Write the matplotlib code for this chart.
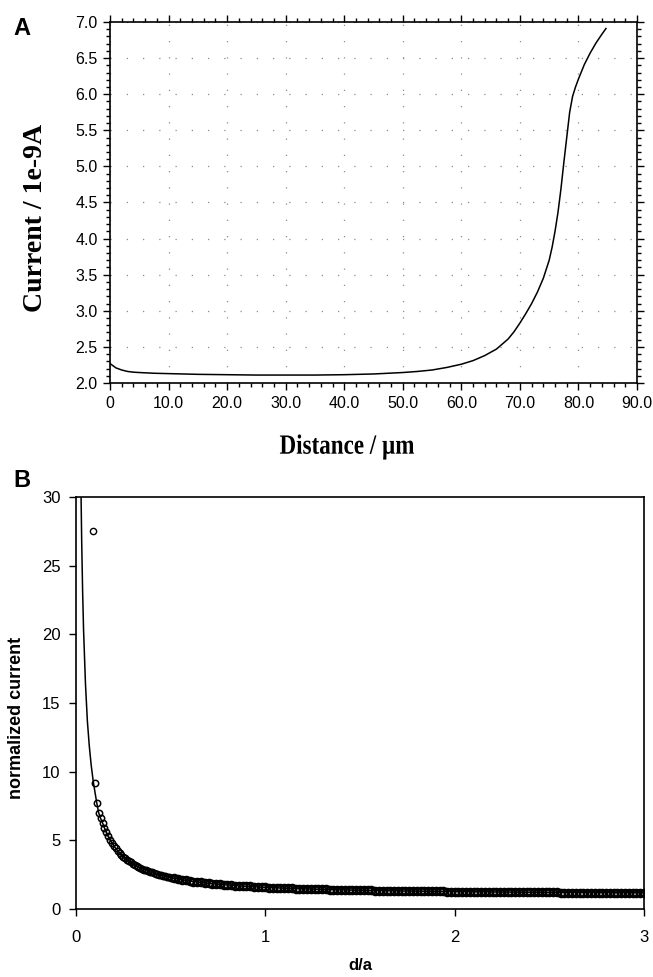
import numpy as np
import matplotlib
matplotlib.use('Agg')
import matplotlib.pyplot as plt
from matplotlib.ticker import MultipleLocator
from matplotlib.textpath import TextPath
from matplotlib.patches import PathPatch
from matplotlib.transforms import Affine2D, IdentityTransform
from matplotlib.font_manager import FontProperties

# Panel A: tip current vs distance
dist_um = [0, 0.5, 1, 2, 3, 4, 5, 7.5, 10, 15, 20, 25, 30, 35, 40, 45, 50, 52.5,
           55, 57.5, 60, 62, 64, 66, 68, 69, 70, 71, 72, 73, 74, 75, 75.5, 76,
           76.5, 77, 77.5, 78, 78.5, 79, 79.5, 80, 81, 82, 83, 84, 84.7]
current_nA = [2.27, 2.24, 2.21, 2.18, 2.16, 2.15, 2.145, 2.135, 2.13, 2.12, 2.115,
              2.11, 2.11, 2.11, 2.115, 2.125, 2.145, 2.16, 2.18, 2.215, 2.26,
              2.31, 2.38, 2.47, 2.61, 2.71, 2.83, 2.96, 3.1, 3.26, 3.45, 3.7,
              3.88, 4.1, 4.36, 4.68, 5.05, 5.4, 5.75, 5.97, 6.1, 6.21, 6.41,
              6.57, 6.71, 6.83, 6.91]

# Panel B: normalized approach curve
# steep head of the fitted line (above the first circles)
line_head_x = [0.022, 0.026, 0.03, 0.035, 0.04, 0.05, 0.06, 0.07, 0.08, 0.09, 0.10]
line_head_y = [36.3, 30.8, 26.8, 23.1, 20.3, 16.4, 13.7, 11.9, 10.5, 9.4, 8.52]

# outlier circle
outlier_x = [0.088]
outlier_y = [27.5]

# circles, d/a = 0.10 ... 0.50 in steps of 0.01
circ_x_a = np.round(np.arange(0.10, 0.505, 0.01), 2)
circ_y_a = [9.2, 7.7, 7.0, 6.6, 6.28, 5.91, 5.58, 5.29, 5.03, 4.81, 4.60,
            4.41, 4.25, 4.09, 3.95, 3.82, 3.70, 3.59, 3.49, 3.39, 3.30,
            3.22, 3.14, 3.07, 3.00, 2.94, 2.87, 2.82, 2.76, 2.71, 2.66,
            2.62, 2.57, 2.53, 2.49, 2.45, 2.42, 2.38, 2.35, 2.32, 2.29]

# circles, d/a = 0.52 ... 3.00 in steps of 0.02
circ_x_b = np.round(np.arange(0.52, 3.005, 0.02), 2)
circ_y_b = [2.23, 2.18, 2.13, 2.08, 2.04, 2.00, 1.97, 1.93, 1.90, 1.87,
            1.84, 1.82, 1.79, 1.77, 1.75, 1.73, 1.71, 1.69, 1.67, 1.65,
            1.64, 1.62, 1.61, 1.59, 1.58, 1.56, 1.55, 1.54, 1.53, 1.52,
            1.51, 1.50, 1.49, 1.48, 1.47, 1.46, 1.45, 1.44, 1.44, 1.43,
            1.42, 1.41, 1.41, 1.40, 1.39, 1.39, 1.38, 1.38, 1.37, 1.37,
            1.36, 1.35, 1.35, 1.34, 1.34, 1.34, 1.33, 1.33, 1.32, 1.32,
            1.31, 1.31, 1.31, 1.30, 1.30, 1.30, 1.29, 1.29, 1.28, 1.28,
            1.28, 1.28, 1.27, 1.27, 1.27, 1.26, 1.26, 1.26, 1.26, 1.25,
            1.25, 1.25, 1.25, 1.24, 1.24, 1.24, 1.24, 1.23, 1.23, 1.23,
            1.23, 1.23, 1.22, 1.22, 1.22, 1.22, 1.22, 1.21, 1.21, 1.21,
            1.21, 1.21, 1.20, 1.20, 1.20, 1.20, 1.20, 1.20, 1.20, 1.19,
            1.19, 1.19, 1.19, 1.19, 1.19, 1.19, 1.18, 1.18, 1.18, 1.18,
            1.18, 1.18, 1.18, 1.17, 1.17]

W, H = 653, 977
fig = plt.figure(figsize=(W / 100, H / 100), dpi=100)


def squeezed_text(x_px, y_px, s, size, sx, prop):
    # text drawn as a path, squeezed horizontally like the original scan
    tp = TextPath((0, 0), s, size=size, prop=prop)
    bb = tp.get_extents()
    k = fig.dpi / 72.0
    tr = (Affine2D().translate(-(bb.x0 + bb.x1) / 2, -(bb.y0 + bb.y1) / 2)
          .scale(sx * k, k).translate(x_px, H - y_px))
    fig.add_artist(PathPatch(tr.transform_path(tp), transform=IdentityTransform(),
                             facecolor='black', edgecolor='none'))


# ---------------- Panel A ----------------
axA = fig.add_axes([110 / W, 1 - 383 / H, 527 / W, 361 / H])
axA.plot(dist_um, current_nA, color='black', lw=1.1)
axA.set_xlim(0, 90)
axA.set_ylim(2.0, 7.0)
axA.xaxis.set_minor_locator(MultipleLocator(2))
axA.yaxis.set_minor_locator(MultipleLocator(0.1))
axA.set_xticks(np.arange(0, 91, 10))
axA.set_xticklabels(['0'] + ['%.1f' % v for v in np.arange(10, 91, 10)])
axA.set_yticks(np.arange(2.0, 7.01, 0.5))
axA.set_yticklabels(['%.1f' % v for v in np.arange(2.0, 7.01, 0.5)])
axA.grid(True, which='major', color='#8c8c8c', lw=0.9, linestyle=(0, (1, 12)))
axA.tick_params(which='both', direction='out', top=True, right=True,
                labelsize=11.5, width=1, colors='black', pad=4)
axA.tick_params(which='major', length=5)
axA.tick_params(which='minor', length=3)
for s in axA.spines.values():
    s.set_linewidth(1.2)
for t in axA.get_xticklabels() + axA.get_yticklabels():
    t.set_fontfamily('Liberation Sans')
squeezed_text(347, 447, 'Distance / \u00b5m', 20, 0.83,
              FontProperties(family='Liberation Serif', weight='bold'))
fig.text(36 / W, 1 - 218 / H, 'Current / 1e-9A', ha='center', va='center',
         rotation=90, fontsize=20, fontweight='bold', family='Liberation Serif')
fig.text(13 / W, 1 - 35 / H, 'A', fontsize=17, fontweight='bold',
         family='Liberation Sans', va='baseline')

# ---------------- Panel B ----------------
axB = fig.add_axes([76 / W, 1 - 909 / H, 568 / W, 412 / H])
line_x = list(line_head_x) + list(circ_x_a[1:]) + list(circ_x_b)
line_y = list(line_head_y) + list(circ_y_a[1:]) + list(circ_y_b)
axB.plot(line_x, line_y, color='black', lw=1.1)
axB.plot(circ_x_a, circ_y_a, linestyle='none', marker='o', ms=4.6,
         mfc='none', mec='black', mew=1.1)
axB.plot(circ_x_b, circ_y_b, linestyle='none', marker='o', ms=5.2,
         mfc='none', mec='black', mew=1.7)
axB.plot(outlier_x, outlier_y, linestyle='none', marker='o', ms=4.5,
         mfc='none', mec='black', mew=1.0)
axB.set_xlim(0, 3)
axB.set_ylim(0, 30)
axB.set_xticks([0, 1, 2, 3])
axB.set_yticks([0, 5, 10, 15, 20, 25, 30])
axB.tick_params(direction='out', length=5, width=1, labelsize=12)
axB.tick_params(axis='x', pad=10)
axB.tick_params(axis='y', pad=6)
for s in axB.spines.values():
    s.set_linewidth(1.2)
for t in axB.get_xticklabels() + axB.get_yticklabels():
    t.set_fontfamily('Liberation Sans')
fig.text(360 / W, 1 - 966 / H, 'd/a', ha='center', va='center', fontsize=12,
         fontweight='bold', family='Liberation Sans')
fig.text(17 / W, 1 - 718 / H, 'normalized current', ha='center', va='center',
         rotation=90, fontsize=13, fontweight='bold', family='Liberation Sans')
fig.text(13 / W, 1 - 487 / H, 'B', fontsize=17, fontweight='bold',
         family='Liberation Sans', va='baseline')

fig.savefig('out.png', dpi=100)
